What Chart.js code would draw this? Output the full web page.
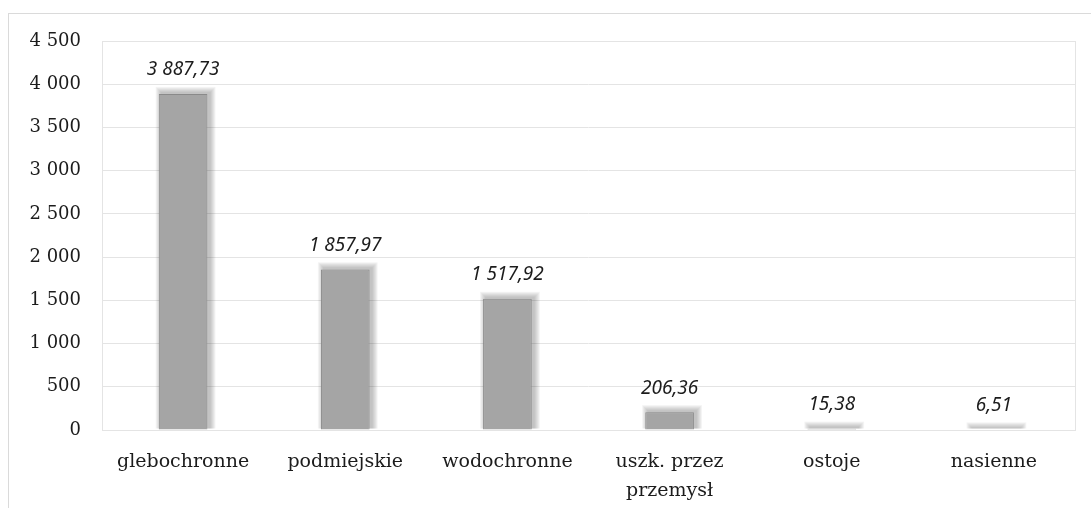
<!DOCTYPE html>
<html>
<head>
<meta charset="utf-8">
<script src="https://cdn.jsdelivr.net/npm/chart.js@4"></script>
<style>
  html, body { margin: 0; padding: 0; background: #fff; }
  #wrap { width: 1091px; height: 508px; }
</style>
</head>
<body>
<div id="wrap"><canvas id="myChart" width="1091" height="508"></canvas></div>
<script>
const categories = ["glebochronne", "podmiejskie", "wodochronne", ["uszk. przez", "przemysł"], "ostoje", "nasienne"];
const values = [3887.73, 1857.97, 1517.92, 206.36, 15.38, 6.51];
const yTicks = [0, 500, 1000, 1500, 2000, 2500, 3000, 3500, 4000, 4500];

// 3887.73 -> "3 887,73"
const plNumber = (v, dec) => {
  const parts = v.toFixed(dec).split(".");
  const intPart = parts[0].replace(/\B(?=(\d{3})+(?!\d))/g, " ");
  return parts[1] ? intPart + "," + parts[1] : intPart;
};

const frame = {
  id: "frame",
  beforeDraw(chart) {
    const ctx = chart.ctx;
    const a = chart.chartArea;
    ctx.save();
    ctx.strokeStyle = "#dadada";
    ctx.lineWidth = 1;
    ctx.strokeRect(8.5, 13.5, 1200, 600);
    ctx.strokeStyle = "#e4e4e4";
    ctx.strokeRect(a.left + 0.5, a.top + 0.5, a.right - a.left, a.bottom - a.top);
    ctx.restore();
  },
};

// soft blurred edge round the bars (canvas shadow does not show here, so layer it)
const glow = {
  id: "glow",
  beforeDatasetsDraw(chart) {
    const ctx = chart.ctx;
    const meta = chart.getDatasetMeta(0);
    ctx.save();
    meta.data.forEach((bar) => {
      const w = bar.width;
      for (let k = 1; k <= 6; k++) {
        ctx.fillStyle = "rgba(90,90,90,0.07)";
        ctx.fillRect(bar.x - w / 2 - k + 3, bar.y - k - 1, w + 2 * k - 1, bar.base - bar.y + k);
      }
    });
    ctx.restore();
  },
};

const valueLabels = {
  id: "valueLabels",
  afterDatasetsDraw(chart) {
    const ctx = chart.ctx;
    const meta = chart.getDatasetMeta(0);
    ctx.save();
    ctx.font = "italic 19px 'Noto Sans'";
    ctx.fillStyle = "#1c1c1c";
    ctx.textAlign = "center";
    ctx.textBaseline = "middle";
    meta.data.forEach((bar, i) => {
      ctx.fillText(plNumber(values[i], 2), bar.x, bar.y - 24);
    });
    ctx.restore();
  },
};

const config = {
  type: "bar",
  data: {
    labels: categories,
    datasets: [
      {
        data: values,
        backgroundColor: "#a5a5a5",
        borderColor: "#8a8a8a",
        borderWidth: 1,
        categoryPercentage: 1,
        barPercentage: 0.3,
      },
    ],
  },
  options: {
    responsive: false,
    animation: false,
    layout: { padding: { top: 41, right: 16, left: 0, bottom: 0 } },
    plugins: { legend: { display: false }, tooltip: { enabled: false } },
    scales: {
      x: {
        grid: { display: false },
        border: { display: false },
        ticks: {
          color: "#1c1c1c",
          font: { family: "DejaVu Serif", size: 19, lineHeight: 1.55 },
          padding: 9,
          maxRotation: 0,
          autoSkip: false,
        },
        afterFit: (s) => { s.height = 78; },
      },
      y: {
        min: 0,
        max: 4500,
        afterBuildTicks: (s) => { s.ticks = yTicks.map((v) => ({ value: v })); },
        grid: { color: "#e4e4e4", drawTicks: false },
        border: { display: false },
        ticks: {
          color: "#1c1c1c",
          font: { family: "DejaVu Serif", size: 18 },
          padding: 21,
          callback: (v) => plNumber(v, 0),
        },
        afterFit: (s) => { s.width = 102; },
      },
    },
  },
  plugins: [frame, glow, valueLabels],
};

new Chart(document.getElementById("myChart"), config);
</script>
</body>
</html>
